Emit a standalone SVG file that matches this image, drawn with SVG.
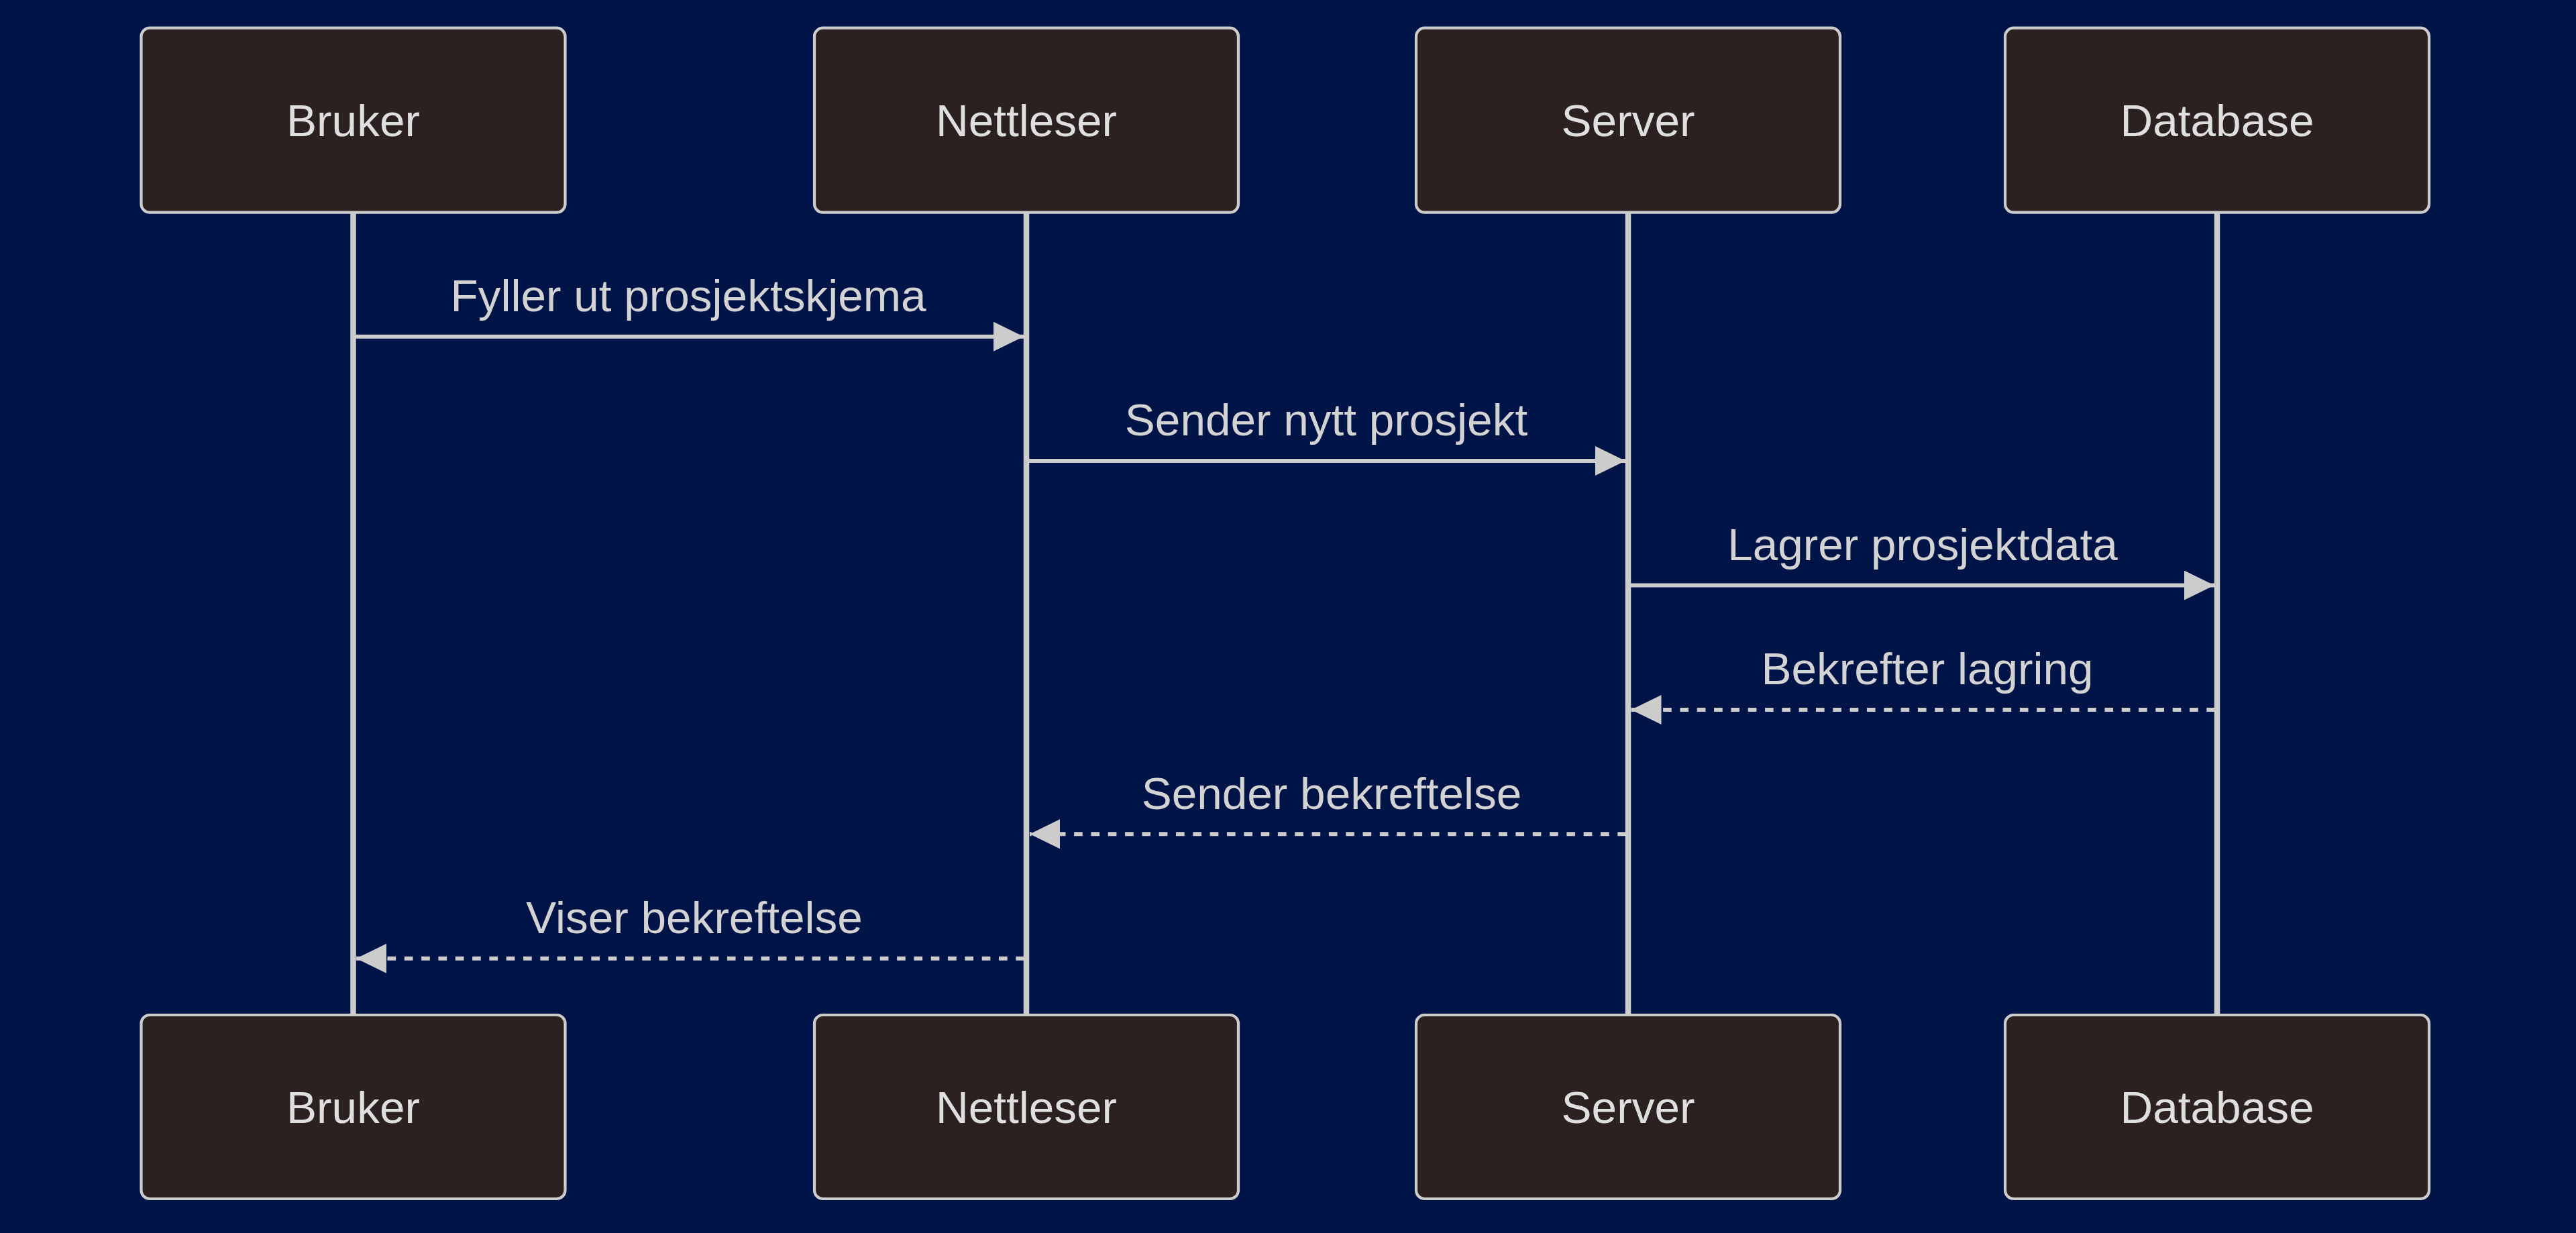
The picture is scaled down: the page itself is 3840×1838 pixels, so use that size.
<svg xmlns="http://www.w3.org/2000/svg" width="3840" height="1838" viewBox="0 0 3840 1838">
<style>
.actor{fill:#2b2120;stroke:#cccccc;stroke-width:4.2}
.atext{font-family:"Liberation Sans",Arial,sans-serif;font-size:67.5px;fill:#e0dfdf;text-anchor:middle}
.life{stroke:#cccccc;stroke-width:8.5;fill:none}
.msg{stroke:#cccccc;stroke-width:6;fill:none}
.dash{stroke-dasharray:12.66 12.66}
.mtext{font-family:"Liberation Sans",Arial,sans-serif;font-size:67.5px;fill:#d3d3d3;text-anchor:middle}
</style>
<defs>
<marker id="arrow" markerUnits="userSpaceOnUse" markerWidth="48" markerHeight="46" refX="45" refY="22" orient="auto">
<path d="M0,0 L45,22 L0,44 z" fill="#cccccc"/>
</marker>
</defs>
<rect x="0" y="0" width="3840" height="1838" fill="#011447"/>
<g id="lifelines">
<line class="life" x1="526.5" y1="317" x2="526.5" y2="1513"/>
<line class="life" x1="1530" y1="317" x2="1530" y2="1513"/>
<line class="life" x1="2427" y1="317" x2="2427" y2="1513"/>
<line class="life" x1="3305" y1="317" x2="3305" y2="1513"/>
</g>
<g id="actor-bruker-top"><rect class="actor" x="210.5" y="41.7" width="632" height="275" rx="12.7"/><text class="atext" x="526.5" y="203">Bruker</text></g>
<g id="actor-nettleser-top"><rect class="actor" x="1214" y="41.7" width="632" height="275" rx="12.7"/><text class="atext" x="1530" y="203">Nettleser</text></g>
<g id="actor-server-top"><rect class="actor" x="2111" y="41.7" width="632" height="275" rx="12.7"/><text class="atext" x="2427" y="203">Server</text></g>
<g id="actor-database-top"><rect class="actor" x="2989" y="41.7" width="632" height="275" rx="12.7"/><text class="atext" x="3305" y="203">Database</text></g>
<g id="actor-bruker-bottom"><rect class="actor" x="210.5" y="1513" width="632" height="274" rx="12.7"/><text class="atext" x="526.5" y="1674">Bruker</text></g>
<g id="actor-nettleser-bottom"><rect class="actor" x="1214" y="1513" width="632" height="274" rx="12.7"/><text class="atext" x="1530" y="1674">Nettleser</text></g>
<g id="actor-server-bottom"><rect class="actor" x="2111" y="1513" width="632" height="274" rx="12.7"/><text class="atext" x="2427" y="1674">Server</text></g>
<g id="actor-database-bottom"><rect class="actor" x="2989" y="1513" width="632" height="274" rx="12.7"/><text class="atext" x="3305" y="1674">Database</text></g>
<g id="connectors">
<text class="mtext" x="1026" y="464">Fyller ut prosjektskjema</text>
<line class="msg" x1="529.5" y1="501.7" x2="1526" y2="501.7" marker-end="url(#arrow)"/>
<text class="mtext" x="1977" y="649.4">Sender nytt prosjekt</text>
<line class="msg" x1="1533" y1="687.1" x2="2423" y2="687.1" marker-end="url(#arrow)"/>
<text class="mtext" x="2866" y="834.8">Lagrer prosjektdata</text>
<line class="msg" x1="2430" y1="872.5" x2="3301" y2="872.5" marker-end="url(#arrow)"/>
<text class="mtext" x="2873" y="1020.2">Bekrefter lagring</text>
<line class="msg dash" x1="3302" y1="1057.9" x2="2431.5" y2="1057.9" marker-end="url(#arrow)"/>
<text class="mtext" x="1985" y="1205.6">Sender bekreftelse</text>
<line class="msg dash" x1="2424" y1="1243.3" x2="1535" y2="1243.3" marker-end="url(#arrow)"/>
<text class="mtext" x="1035" y="1391">Viser bekreftelse</text>
<line class="msg dash" x1="1527" y1="1428.7" x2="531" y2="1428.7" marker-end="url(#arrow)"/>
</g>
</svg>
